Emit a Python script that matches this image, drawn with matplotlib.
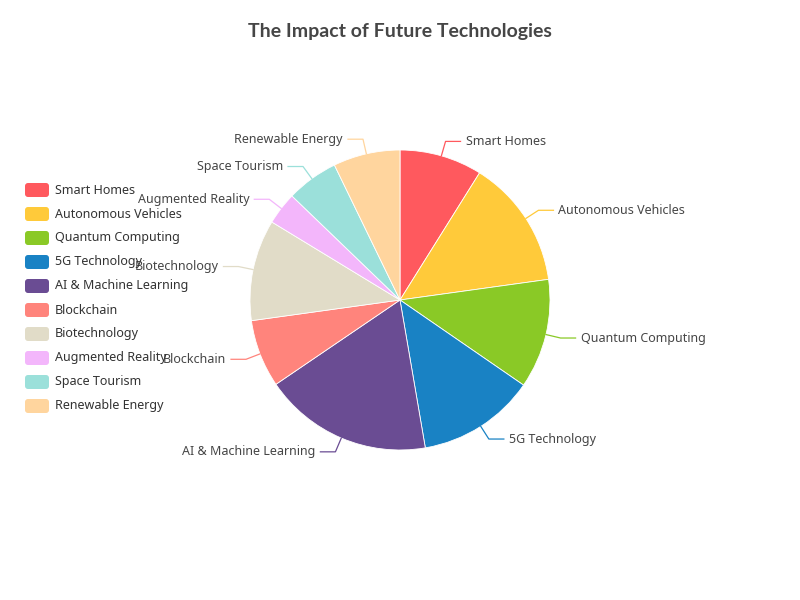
import numpy as np
import matplotlib.pyplot as plt
from matplotlib.patches import FancyBboxPatch

# данные
names = ['Smart Homes', 'Autonomous Vehicles', 'Quantum Computing', '5G Technology',
         'AI & Machine Learning', 'Blockchain', 'Biotechnology', 'Augmented Reality',
         'Space Tourism', 'Renewable Energy']
values = [8.9, 13.9, 11.8, 12.7, 18.2, 7.3, 10.9, 3.5, 5.6, 7.2]
colors = ['#ff595e', '#ffca3a', '#8ac926', '#1982c4', '#6a4c93',
          '#ff847c', '#e1dcc8', '#f3b6fb', '#9be0da', '#ffd59e']

plt.rcParams['font.family'] = ['Noto Sans', 'DejaVu Sans']

fig = plt.figure(figsize=(8, 6), dpi=100)
ax = fig.add_axes([0, 0, 1, 1])

cx, cy, r = 400, 300, 150
wedges, _ = ax.pie(values, colors=colors, startangle=90, counterclock=False,
                   center=(cx, cy), radius=r, frame=True,
                   wedgeprops=dict(edgecolor='white', linewidth=0.6))
ax.set_xlim(0, 800)
ax.set_ylim(0, 600)
ax.axis('off')

# подписи с линиями
for w, name, c in zip(wedges, names, colors):
    mid = np.deg2rad((w.theta1 + w.theta2) / 2)
    dx, dy = np.cos(mid), np.sin(mid)
    p0 = (cx + r * dx, cy + r * dy)
    p1 = (cx + (r + 15) * dx, cy + (r + 15) * dy)
    side = 1 if dx >= 0 else -1
    p2 = (p1[0] + 15 * side, p1[1])
    ax.plot([p0[0], p1[0], p2[0]], [p0[1], p1[1], p2[1]], color=c, lw=0.9)
    ax.text(p2[0] + 5 * side, p2[1], name, fontsize=9, color='#464646',
            ha='left' if side > 0 else 'right', va='center')

# легенда
for i, (name, c) in enumerate(zip(names, colors)):
    y = 600 - (190 + 24 * i)
    ax.add_patch(FancyBboxPatch((25, y - 7), 24, 14,
                                boxstyle='round,pad=0,rounding_size=3',
                                facecolor=c, edgecolor='none'))
    ax.text(55, y, name, fontsize=9, color='#333333', va='center', ha='left')

ax.text(400, 600 - 32, 'The Impact of Future Technologies', fontsize=14,
        fontweight='bold', family='Lato', color='#464646', ha='center', va='center')

fig.savefig('out.png', dpi=100)
